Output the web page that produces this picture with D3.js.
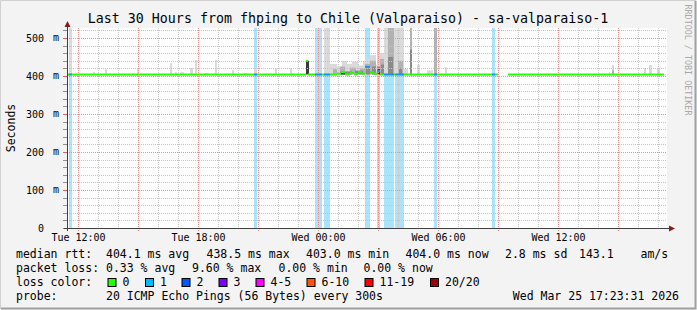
<!DOCTYPE html>
<html><head><meta charset="utf-8">
<script src="https://cdn.jsdelivr.net/npm/d3@7"></script>
<style>
body{margin:0;background:#f3f3f3}
svg{display:block}
text{font-family:"DejaVu Sans Mono",monospace;fill:#000}
</style>
</head><body>
<svg id="c" width="697" height="310"></svg>
<script>
// ---------------- DATA (hours counted from Tue 00:00) ----------------
const titleText = "Last 30 Hours from fhping to Chile (Valparaiso) - sa-valparaiso-1";
const timeDomain = [11.45, 41.45];
const xTickHours = [12, 18, 24, 30, 36];
const yTickValues = [0, 100, 200, 300, 400, 500];
const yMax = 526.3;

// loss background bars: [startHour, endHour, lossCount]
const lossBars = [
  [11.55,11.70,1],[20.80,20.95,1],[23.85,24.20,1],[24.30,24.60,1],
  [26.35,26.60,1],[26.95,27.10,1],[27.30,27.80,1],[27.85,28.30,1],
  [29.80,29.95,1],[32.70,32.85,1]
];
// median rtt runs: [startHour, endHour, ms, lossCount]
const medianRuns = [
  [11.45,11.55,404,0],[11.55,11.70,404,1],[11.70,20.80,404,0],[20.80,20.95,404,1],
  [20.95,23.40,404,0],[23.40,23.50,440,0],[23.50,23.85,404,0],[23.85,24.20,404,1],
  [24.20,24.30,404,0],[24.30,24.60,404,1],[24.60,24.95,404,0],[24.95,25.15,406,0],
  [25.15,25.35,410,0],[25.35,25.60,404,0],[25.60,25.80,408,0],[25.80,26.00,405,0],
  [26.00,26.20,410,0],[26.20,26.35,406,0],[26.35,26.60,424,1],[26.60,26.80,410,0],
  [26.80,26.95,406,0],[26.95,27.10,413,1],[27.10,27.30,404,0],[27.30,27.80,404,1],
  [27.80,27.85,404,0],[27.85,28.30,404,1],[28.30,29.80,404,0],[29.80,29.95,404,1],
  [29.95,32.70,404,0],[32.70,32.85,404,1],[32.85,33.00,404,0],[33.50,41.30,404,0]
];
// smoke (ping spread above the median): [startHour, endHour, maxMs]
const smokeLight = [
  [11.55,11.70,527],[12.75,12.85,410],[13.35,13.45,418],[14.70,14.75,408],[14.95,15.05,418],
  [16.60,16.70,434],[16.85,16.95,410],[17.10,17.30,410],[17.60,17.75,421],[17.85,17.95,442],
  [18.35,18.50,408],[18.85,18.95,442],[19.70,19.80,416],[20.25,20.45,408],[20.80,20.95,420],
  [21.85,21.95,421],[22.60,22.70,421],
  [24.30,24.60,527],[24.60,24.95,432],[24.95,25.20,425],[25.20,25.45,440],[25.45,25.70,432],
  [25.70,26.00,438],[26.00,26.25,428],[26.25,26.35,440],[26.35,26.60,445],[26.60,26.90,455],
  [26.90,27.10,430],[27.10,27.30,460],[27.30,28.30,527],[28.30,28.50,418],[28.95,29.10,430],
  [29.45,29.75,415],
  [30.35,30.45,423],[37.75,37.85,406],[38.55,38.60,410],[38.70,38.80,429],[40.30,40.40,421],
  [40.55,40.70,429],[40.95,41.10,418]
];
const smokeMid = [
  [24.75,24.95,418],[25.10,25.35,425],[25.60,25.90,422],[26.10,26.35,420],[26.35,26.60,432],
  [26.60,26.90,440],[27.10,27.30,445],[27.50,27.80,527],[28.00,28.25,440],[28.60,28.70,527],
  [29.80,29.95,527],[38.70,38.80,415]
];
const smokeDark = [
  [25.10,25.70,412],[25.85,26.25,414],[26.40,26.60,420],[26.70,26.90,425],[26.95,27.10,425],
  [27.15,27.30,430],[27.50,27.75,450],[28.05,28.20,420],[28.60,28.70,470]
];
const smokeBlack = [[23.40,23.55,440],[25.15,25.35,408],[27.00,27.10,420]];

const lossColors = ["#26ff00","#00b8ff","#0059ff","#7e00ff","#ff00ff","#ff5500","#ff0000","#a10000"];
const lossLabels = ["0","1","2","3","4-5","6-10","11-19","20/20"];
const rttStats = ["404.1 ms avg","438.5 ms max","403.0 ms min","404.0 ms now","2.8 ms sd","143.1","am/s"];
const lossStats = ["0.33 % avg","9.60 % max","0.00 % min","0.00 % now"];
const probeText = "20 ICMP Echo Pings (56 Bytes) every 300s";
const stampText = "Wed Mar 25 17:23:31 2026";

// ---------------- DRAW ----------------
const svg = d3.select("#c");
const base = new Date(2026,2,24,0,0,0);
const hr = h => new Date(base.getTime() + h*3600e3);
const x = d3.scaleTime().domain(timeDomain.map(hr)).range([67,667]);
const y = d3.scaleLinear().domain([0,yMax]).range([228,28]);
const X = h => x(hr(h));

// frame
svg.append("rect").attr("x",0).attr("y",0).attr("width",697).attr("height",310).attr("fill","#f3f3f3");
svg.append("path").attr("d","M0.5,309V0.5H696").attr("fill","none").attr("stroke","#d0d0d0").attr("stroke-width",1);
svg.append("path").attr("d","M1,308.5H695.5V1").attr("fill","none").attr("stroke","#a0a0a0").attr("stroke-width",2);

// plot canvas
svg.append("rect").attr("x",67).attr("y",28).attr("width",600).attr("height",200).attr("fill","#fff");

// loss background
svg.append("g").selectAll("rect").data(lossBars).join("rect")
  .attr("x",d=>X(d[0])).attr("width",d=>X(d[1])-X(d[0]))
  .attr("y",y(yMax)).attr("height",y(0)-y(yMax))
  .attr("fill","#a8e4fb");

// smoke
function smoke(data,col){
  svg.append("g").selectAll("rect").data(data).join("rect")
    .attr("x",d=>X(d[0])).attr("width",d=>X(d[1])-X(d[0]))
    .attr("y",d=>y(Math.min(d[2],yMax))).attr("height",d=>y(404)-y(Math.min(d[2],yMax)))
    .attr("fill",col);
}
smoke(smokeLight,"#dadada");
smoke(smokeMid,"#b2b2b2");
smoke(smokeDark,"#8a8a8a");
smoke(smokeBlack,"#3a3a3a");

// grid
const g = svg.append("g").attr("shape-rendering","crispEdges");
const minorY = d3.range(0,yMax,20).filter(v=>v%100!==0);
const minorX = d3.range(12,41.45,1).filter(h=>h%3!==0);
const majorX = d3.range(12,41.45,3);
g.selectAll(".my").data(minorY).join("line")
  .attr("x1",67).attr("x2",667).attr("y1",d=>Math.round(y(d))+0.5).attr("y2",d=>Math.round(y(d))+0.5)
  .attr("stroke","#c4c4c4").attr("stroke-dasharray","1,1");
g.selectAll(".mx").data(minorX).join("line")
  .attr("y1",28).attr("y2",228).attr("x1",d=>Math.round(X(d))+0.5).attr("x2",d=>Math.round(X(d))+0.5)
  .attr("stroke","#c4c4c4").attr("stroke-dasharray","1,1");
g.selectAll(".My").data(yTickValues.filter(v=>v>0)).join("line")
  .attr("x1",67).attr("x2",667).attr("y1",d=>Math.round(y(d))+0.5).attr("y2",d=>Math.round(y(d))+0.5)
  .attr("stroke","#f09090").attr("stroke-dasharray","1,1");
g.selectAll(".Mx").data(majorX).join("line")
  .attr("y1",28).attr("y2",231).attr("x1",d=>Math.round(X(d))+0.5).attr("x2",d=>Math.round(X(d))+0.5)
  .attr("stroke","#f09090").attr("stroke-dasharray","1,1");
// y ticks
g.selectAll(".ty").data(d3.range(0,yMax,20)).join("line")
  .attr("x1",63).attr("x2",67).attr("y1",d=>Math.round(y(d))+0.5).attr("y2",d=>Math.round(y(d))+0.5)
  .attr("stroke",d=>d%100===0?"#e06060":"#909090");

// median line
svg.append("g").selectAll("line").data(medianRuns).join("line")
  .attr("x1",d=>X(d[0])).attr("x2",d=>X(d[1]))
  .attr("y1",d=>y(d[2])).attr("y2",d=>y(d[2]))
  .attr("stroke",d=>d[3]===0?lossColors[0]:"#1a90ff").attr("stroke-width",2);

// axes
svg.append("line").attr("x1",67.5).attr("x2",67.5).attr("y1",231).attr("y2",24).attr("stroke","#404040");
svg.append("line").attr("x1",64).attr("x2",670).attr("y1",228.5).attr("y2",228.5).attr("stroke","#404040");
svg.append("path").attr("d","M64.5,27L67.5,21L70.5,27Z").attr("fill","#8b1a1a");
svg.append("path").attr("d","M669,225.5L675,228.5L669,231.5Z").attr("fill","#8b1a1a");

// axis labels via d3 axes (text only)
const xa = d3.axisBottom(x).tickValues(xTickHours.map(hr)).tickFormat(d3.timeFormat("%a %H:%M")).tickSize(0);
const xg = svg.append("g").attr("transform","translate(0,231)").call(xa);
xg.select(".domain").remove();
xg.selectAll("text").attr("font-size","10px").attr("font-family","DejaVu Sans Mono").attr("fill","#000");

const ya = d3.axisLeft(y).tickValues(yTickValues).tickFormat(d=>d).tickSize(0);
const yg = svg.append("g").attr("transform","translate(47,0)").call(ya);
yg.select(".domain").remove();
yg.selectAll("text").attr("font-size","10px").attr("font-family","DejaVu Sans Mono").attr("fill","#000").attr("dx",0);
svg.append("g").selectAll("text").data(yTickValues.filter(v=>v>0)).join("text")
  .attr("x",53).attr("y",d=>y(d)).attr("dy","0.32em").attr("font-size","10px").text("m");

// title
svg.append("text").attr("x",348).attr("y",23).attr("text-anchor","middle").attr("font-size","13.3px").text(titleText);
// y label
svg.append("text").attr("transform","translate(15,128) rotate(-90)").attr("text-anchor","middle").attr("font-size","11.5px").text("Seconds");
// watermark
svg.append("text").attr("transform","translate(684.5,60) rotate(90)").attr("text-anchor","middle")
  .attr("font-size","8.4px").style("fill","#a8a8a8").text("RRDTOOL / TOBI OETIKER");

// legend
const fs = "11.5px";
const L = (xx,yy,t)=>svg.append("text").attr("x",xx).attr("y",yy).attr("font-size",fs).attr("xml:space","preserve").text(t);
L(16,258,"median rtt:");
[106,206.5,306,405.5,505,579,640.5].forEach((xx,i)=>L(xx,258,rttStats[i]));
L(16,272,"packet loss:");
[106,192,278.5,363.5].forEach((xx,i)=>L(xx,272,lossStats[i]));
L(16,286,"loss color:");
const boxX=[107.5,145,181.5,218.5,255.5,306.5,364.5,430];
lossColors.forEach((c,i)=>{
  svg.append("rect").attr("x",boxX[i]+0.5).attr("y",278.5).attr("width",8).attr("height",8).attr("fill",c).attr("stroke","#000");
  L(boxX[i]+15,286,lossLabels[i]);
});
L(16,300,"probe:");
L(106,300,probeText);
svg.append("text").attr("x",679).attr("y",300).attr("text-anchor","end").attr("font-size",fs).text(stampText);
</script>
</body></html>
